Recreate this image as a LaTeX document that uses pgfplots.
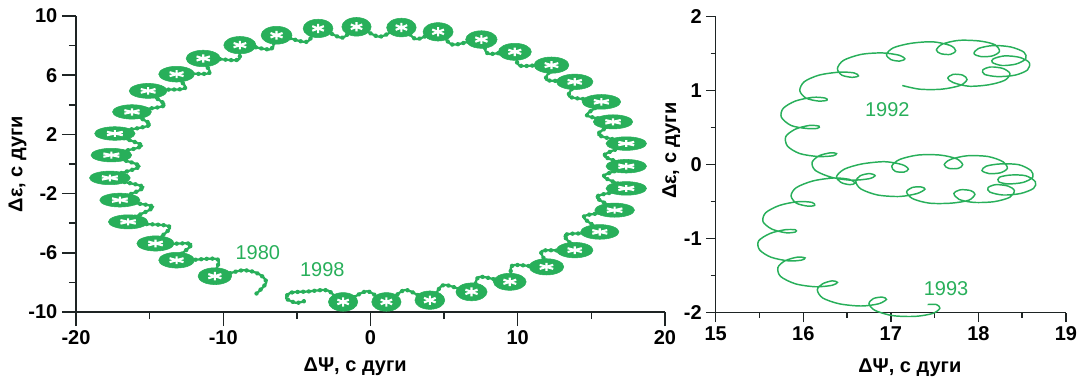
\documentclass[border=0pt]{standalone}
\usepackage{pgfplots}
\pgfplotsset{compat=1.18}
\usepackage{pgfplotstable}
\usepackage{fontspec}
\setmainfont{Liberation Sans}
\definecolor{ngreen}{RGB}{40,175,90}
\definecolor{axcol}{RGB}{30,36,36}

% semi-annual "blobs" of the 18.6-year ellipse (centre, half-width, half-height in pt)
\pgfplotstableread{
x y w h
-10.57 -7.58 12.6 6.3
-13.17 -6.50 13.4 5.9
-14.60 -5.37 14.0 5.7
-16.46 -3.91 14.8 5.3
-17.02 -2.44 15.1 5.2
-17.70 -0.94 15.3 5.1
-17.60 0.60 15.3 5.1
-17.36 2.06 15.2 5.1
-16.20 3.52 14.6 5.4
-15.10 4.94 14.2 5.6
-13.17 6.07 13.4 5.9
-11.36 7.13 12.8 6.2
-8.87 8.03 12.1 6.5
-6.38 8.70 11.6 6.7
-3.56 9.16 11.2 6.9
-0.95 9.27 11.0 7.0
2.10 9.22 11.1 7.0
4.59 8.93 11.3 6.9
7.53 8.41 11.8 6.6
9.80 7.58 12.4 6.4
12.29 6.68 13.1 6.1
13.87 5.55 13.7 5.8
15.68 4.20 14.5 5.5
16.47 2.85 14.8 5.3
17.37 1.38 15.2 5.1
17.37 -0.15 15.2 5.1
17.37 -1.65 15.2 5.1
16.58 -3.12 14.9 5.3
15.57 -4.59 14.4 5.5
13.87 -5.82 13.7 5.8
11.95 -6.95 13.0 6.1
9.46 -7.96 12.3 6.4
6.86 -8.64 11.7 6.7
4.03 -9.20 11.2 6.9
1.08 -9.32 11.0 7.0
-1.86 -9.32 11.0 7.0
}\blobs

% connecting track 1980 -> 1998 (blob centres and inner arcs)
\pgfplotstableread{
x y
-7.74 -8.75
-7.08 -8.00
-7.60 -7.42
-8.70 -7.18
-10.57 -7.58
-10.40 -6.43
-13.17 -6.50
-12.19 -5.41
-14.60 -5.37
-13.65 -4.23
-16.46 -3.91
-14.78 -2.90
-17.02 -2.44
-15.44 -1.56
-17.70 -0.94
-15.70 -0.15
-17.60 0.60
-15.54 1.23
-17.36 2.06
-15.00 2.64
-16.20 3.52
-14.00 3.96
-15.10 4.94
-12.61 5.11
-13.17 6.07
-10.95 6.14
-11.36 7.13
-8.99 7.04
-8.87 8.03
-6.76 7.75
-6.38 8.70
-4.36 8.25
-3.56 9.16
-1.92 8.53
-0.95 9.27
0.61 8.60
2.10 9.22
3.11 8.44
4.59 8.93
5.57 8.07
7.53 8.41
7.96 7.46
9.80 7.58
10.11 6.65
12.29 6.68
11.94 5.69
13.87 5.55
13.50 4.56
15.68 4.20
14.70 3.29
16.47 2.85
15.48 1.98
17.37 1.38
15.87 0.57
17.37 -0.15
15.83 -0.83
17.37 -1.65
15.37 -2.21
16.58 -3.12
14.49 -3.55
15.57 -4.59
13.22 -4.79
13.87 -5.82
11.64 -5.88
11.95 -6.95
9.65 -6.85
9.46 -7.96
7.39 -7.63
6.86 -8.64
4.96 -8.18
4.03 -9.20
2.37 -8.51
1.08 -9.32
-0.24 -8.60
-1.86 -9.32
-2.90 -8.55
-4.30 -8.62
-5.45 -8.70
-5.72 -9.08
-5.05 -9.38
-4.46 -9.25
}\track

\begin{document}
\begin{tikzpicture}
\path[use as bounding box] (0,0) rectangle (814.5pt,286.5pt);
\pgfplotsset{
  myaxis/.style={
    scale only axis, clip=false,
    axis x line*=bottom, axis y line*=left,
    axis line style={axcol, line width=1.1pt},
    every tick/.style={axcol, line width=1.1pt},
    tick align=outside,
    tick label style={font=\bfseries\fontsize{15}{17}\selectfont, text=black},
    label style={font=\bfseries\fontsize{15}{17}\selectfont},
    /pgf/number format/assume math mode=true,
  }
}
% ---------------- left axis ----------------
\begin{axis}[myaxis, at={(57pt,52.5pt)}, anchor=south west,
  width=441.75pt, height=222pt,
  xmin=-20, xmax=20, ymin=-10, ymax=10,
  xtick={-20,-10,0,10,20}, minor xtick={-15,-5,5,15},
  ytick={-10,-6,-2,2,6,10}, minor ytick={-8,-4,0,4,8},
  major tick length=10.5pt, minor tick length=5.25pt,
  xlabel={ΔΨ, с дуги}, ylabel={Δε, с дуги},
  xlabel style={at={(rel axis cs:0.474,0)}, anchor=center, yshift=-41.25pt},
  ylabel style={at={(rel axis cs:0,0.5)}, anchor=center, yshift=43.9pt},
]
\addplot[ngreen, line width=1.7pt, smooth] table[x=x,y=y] {\track};
\addplot[ngreen, line width=3.3pt, smooth, line cap=round,
  dash pattern=on 0.01pt off 4.2pt] table[x=x,y=y] {\track};
\addplot[scatter, only marks, mark=*, mark size=1pt,
  scatter/use mapped color={draw=ngreen, fill=ngreen},
  point meta=\thisrow{w},
  visualization depends on={\thisrow{w}\as\bw},
  visualization depends on={\thisrow{h}\as\bh},
  scatter/@pre marker code/.append style={/tikz/xscale=\bw,/tikz/yscale=\bh}]
  table[x=x,y=y] {\blobs};
\addplot[scatter, only marks, mark=asterisk, mark size=1pt,
  scatter/use mapped color={draw=white, fill=white},
  mark options={line width=1.6pt},
  point meta=\thisrow{w},
  visualization depends on={\thisrow{w}\as\bw},
  visualization depends on={\thisrow{h}\as\bh},
  scatter/@pre marker code/.append style={/tikz/xscale=0.45*\bw,/tikz/yscale=0.5*\bh}]
  table[x=x,y=y] {\blobs};
\node[text=ngreen, font=\fontsize{15}{17}\selectfont] at (axis cs:-7.65,-5.96) {1980};
\node[text=ngreen, font=\fontsize{15}{17}\selectfont] at (axis cs:-3.27,-7.14) {1998};
\end{axis}
% ---------------- right axis ----------------
\begin{axis}[myaxis, at={(536.8pt,52pt)}, anchor=south west,
  width=262.7pt, height=222pt,
  xmin=15, xmax=19, ymin=-2, ymax=2,
  xtick={15,16,17,18,19}, minor xtick={15.5,16.5,17.5,18.5},
  ytick={-2,-1,0,1,2}, minor ytick={-1.5,-0.5,0.5,1.5},
  major tick length=7pt, minor tick length=3.75pt,
  xlabel={ΔΨ, с дуги}, ylabel={Δε, с дуги},
  xlabel style={at={(rel axis cs:0.554,0)}, anchor=center, yshift=-41.25pt},
  ylabel style={at={(rel axis cs:0,0.547)}, anchor=center, yshift=33.4pt},
]
\addplot[ngreen, line width=1.1pt, smooth] coordinates {
(17.13,1.07) (17.33,1.02) (17.58,1.02) (17.79,1.07) (17.87,1.15) (17.82,1.21) (17.71,1.22) (17.65,1.17)
(17.71,1.11) (17.89,1.06) (18.12,1.08) (18.30,1.14) (18.36,1.23) (18.28,1.30) (18.14,1.32) (18.05,1.28)
(18.07,1.22) (18.22,1.19) (18.42,1.21) (18.56,1.28) (18.58,1.38) (18.47,1.45) (18.30,1.47) (18.17,1.43)
(18.16,1.38) (18.27,1.34) (18.43,1.36) (18.54,1.43) (18.52,1.52) (18.37,1.59) (18.17,1.61) (18.00,1.57)
(17.95,1.50) (18.03,1.46) (18.16,1.47) (18.24,1.53) (18.19,1.62) (18.02,1.67) (17.78,1.68) (17.59,1.63)
(17.52,1.55) (17.57,1.50) (17.68,1.49) (17.74,1.54) (17.68,1.61) (17.48,1.66) (17.23,1.64) (17.03,1.58)
(16.95,1.49) (17.00,1.42) (17.10,1.40) (17.16,1.43) (17.09,1.48) (16.90,1.51) (16.66,1.49) (16.46,1.41)
(16.39,1.30) (16.44,1.21) (16.56,1.18) (16.63,1.20) (16.58,1.24) (16.41,1.25) (16.18,1.21) (16.01,1.12)
(15.96,1.00) (16.03,0.90) (16.17,0.86) (16.27,0.87) (16.25,0.90) (16.11,0.91) (15.91,0.86) (15.77,0.76)
(15.75,0.64) (15.86,0.53) (16.03,0.49) (16.16,0.49) (16.18,0.52) (16.07,0.53) (15.91,0.48) (15.80,0.38)
(15.82,0.25) (15.96,0.15) (16.17,0.11) (16.34,0.12) (16.38,0.15) (16.31,0.16) (16.18,0.12) (16.10,0.03)
(16.14,-0.08) (16.32,-0.17) (16.55,-0.21) (16.75,-0.19) (16.82,-0.15) (16.76,-0.12) (16.65,-0.15) (16.60,-0.23)
(16.66,-0.33) (16.85,-0.41) (17.10,-0.43) (17.30,-0.39) (17.39,-0.33) (17.34,-0.30) (17.24,-0.31) (17.18,-0.37)
(17.25,-0.46) (17.44,-0.52) (17.69,-0.52) (17.89,-0.48) (17.96,-0.40) (17.91,-0.35) (17.79,-0.34) (17.72,-0.39)
(17.78,-0.47) (17.95,-0.51) (18.18,-0.50) (18.36,-0.44) (18.41,-0.35) (18.34,-0.29) (18.20,-0.27) (18.11,-0.31)
(18.13,-0.37) (18.28,-0.41) (18.48,-0.39) (18.63,-0.32) (18.65,-0.23) (18.54,-0.15) (18.37,-0.14) (18.24,-0.17)
(18.23,-0.23) (18.34,-0.26) (18.51,-0.24) (18.62,-0.17) (18.60,-0.08) (18.46,0.00) (18.25,0.01) (18.09,-0.02)
(18.04,-0.08) (18.12,-0.12) (18.25,-0.11) (18.33,-0.05) (18.28,0.04) (18.11,0.11) (17.87,0.12) (17.68,0.07)
(17.61,0.00) (17.66,-0.05) (17.77,-0.05) (17.82,0.00) (17.75,0.08) (17.56,0.13) (17.31,0.13) (17.10,0.07)
(17.01,-0.02) (17.05,-0.09) (17.15,-0.10) (17.20,-0.06) (17.13,0.00) (16.93,0.04) (16.67,0.01) (16.47,-0.06)
(16.38,-0.16) (16.43,-0.24) (16.53,-0.27) (16.59,-0.25) (16.53,-0.20) (16.35,-0.18) (16.11,-0.22) (15.92,-0.31)
(15.86,-0.42) (15.92,-0.52) (16.05,-0.56) (16.13,-0.55) (16.10,-0.51) (15.94,-0.50) (15.73,-0.55) (15.57,-0.65)
(15.54,-0.77) (15.64,-0.87) (15.80,-0.92) (15.91,-0.91) (15.91,-0.88) (15.79,-0.88) (15.62,-0.93) (15.49,-1.03)
(15.50,-1.15) (15.63,-1.25) (15.83,-1.30) (15.98,-1.29) (16.02,-1.26) (15.93,-1.25) (15.79,-1.30) (15.71,-1.39)
(15.74,-1.51) (15.91,-1.61) (16.14,-1.65) (16.33,-1.63) (16.39,-1.59) (16.33,-1.57) (16.22,-1.61) (16.16,-1.69)
(16.22,-1.80) (16.41,-1.88) (16.66,-1.91) (16.86,-1.88) (16.95,-1.82) (16.90,-1.79) (16.80,-1.81) (16.75,-1.88)
(16.82,-1.97) (17.02,-2.04) (17.28,-2.05) (17.48,-2.01) (17.56,-1.94) (17.52,-1.89) (17.42,-1.89)
};
\node[text=ngreen, font=\fontsize{15}{17}\selectfont] at (axis cs:16.96,0.75) {1992};
\node[text=ngreen, font=\fontsize{15}{17}\selectfont] at (axis cs:17.63,-1.67) {1993};
\end{axis}
\end{tikzpicture}
\end{document}
